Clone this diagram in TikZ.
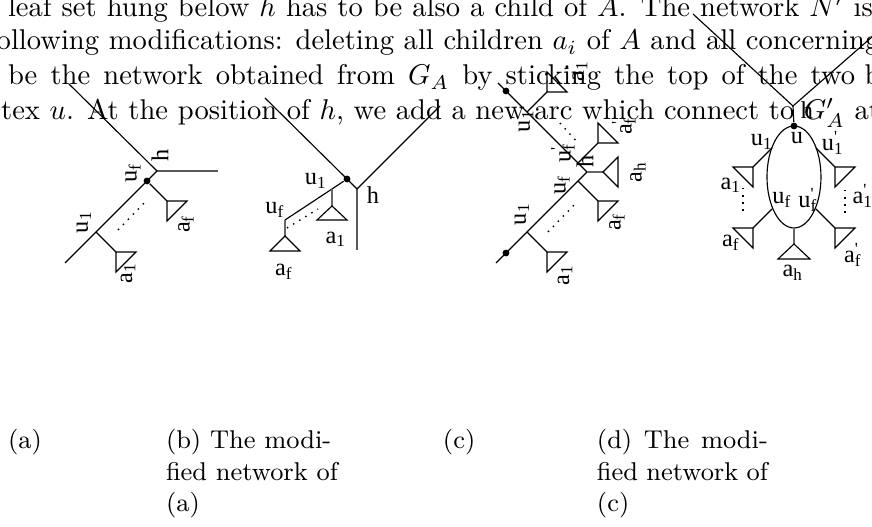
\documentclass[tikz,border=0pt]{standalone}
\usepackage{fontspec}
\newfontfamily\labfont{Liberation Serif}
\usetikzlibrary{positioning, shapes.geometric}
\tikzset{
  txt/.style={anchor=base west, inner sep=0pt, outer sep=0pt},
  captxt/.style={txt, font=\small},
  arc/.style={line width=0.4pt},
  grayarc/.style={line width=0.4pt, black!60},
  dots/.style={dotted, line width=0.5pt},
  vtx/.style={circle, fill, inner sep=0pt, minimum size=2.4pt},
  lab/.style={inner sep=0pt, font=\labfont\fontsize{8.5}{10}\selectfont},
  rlab/.style={lab, rotate=90},
  blob/.style={ellipse, draw, line width=0.4pt, inner sep=0pt,
    minimum width=18.9pt, minimum height=35.7pt},
}
\newcommand{\lsub}[2]{#1\textsubscript{#2}}
\newcommand{\lsubp}[2]{#1\rlap{\textsuperscript{'}}\textsubscript{#2}}

\begin{document}
\begin{tikzpicture}[x=0.35pt, y=-0.35pt]
  \useasboundingbox (0,0) rectangle (872,527);
  \clip (0,0) rectangle (872,527);

  % running text behind the figure
  \node[txt] (line1) at (8,17) {\hbox to 302.7pt{leaf set hung below $h$ has to be also a child of $A$. The network $N'$ is}};
  \node[txt] (line2) at (-12,50) {\hbox to 312pt{following modifications: deleting all children $a_i$ of $A$ and all concerning}};
  \node[txt] (line3) at (8,85) {\hbox to 296.5pt{be the network obtained from $G_A$ by sticking the top of the two}\ branches};
  \node[txt] (line4) at (-37,120) {\hbox to 321pt{vertex $u$. At the position of $h$, we add a new arc which connect to $G'_A$ at}};

  % (a)
  \coordinate (a-top) at (69,84);
  \coordinate (a-h) at (157,171);
  \coordinate (a-hend) at (218,171);
  \node[vtx] (a-uf) at (147,181) {};
  \coordinate (a-u1) at (96,232);
  \coordinate (a-end) at (65,263);
  \coordinate (a-taf) at (167,201);
  \coordinate (a-ta1) at (116,252);
  \coordinate (a-d1) at (118,230);
  \coordinate (a-d2) at (147,200);
  \draw[arc] (a-top) -- (a-h) -- (a-hend);
  \draw[arc] (a-h) -- (a-uf.center) -- (a-u1) -- (a-end);
  \draw[arc] (a-uf) -- (a-taf);
  \draw[arc] (a-taf) -- ++(20,0) -- ++(-20,20) -- cycle;
  \draw[arc] (a-u1) -- (a-ta1);
  \draw[arc] (a-ta1) -- ++(20,0) -- ++(-20,20) -- cycle;
  \draw[dots] (a-d1) -- (a-d2);
  \node[rlab] (a-lh) at (160,155) {h};
  \node[rlab] (a-luf) at (133,173) {\lsub{u}{f}};
  \node[rlab] (a-lu1) at (84,222) {\lsub{u}{1}};
  \node[rlab] (a-laf) at (186,224) {\lsub{a}{f}};
  \node[rlab] (a-la1) at (128,273) {\lsub{a}{1}};

  % (b)
  \coordinate (b-top) at (265,98);
  \coordinate (b-rtop) at (440,106);
  \node[vtx] (b-u) at (347,179) {};
  \coordinate (b-h) at (357,189);
  \coordinate (b-hend) at (357,250);
  \coordinate (b-u1) at (332,189);
  \coordinate (b-uf) at (285,220);
  \coordinate (b-ta1) at (332,206);
  \coordinate (b-taf) at (285,236);
  \coordinate (b-d1) at (287,228);
  \coordinate (b-d2) at (318,209);
  \draw[arc] (b-top) -- (b-u.center) -- (b-h) -- (b-hend);
  \draw[arc] (b-rtop) -- (b-h);
  \draw[arc] (b-u) -- (b-u1) -- (b-uf);
  \draw[grayarc] (b-u1) -- (b-ta1);
  \draw[arc] (b-ta1) -- ++(-15,14) -- ++(30,0) -- cycle;
  \draw[grayarc] (b-uf) -- (b-taf);
  \draw[arc] (b-taf) -- ++(-15,15) -- ++(30,0) -- cycle;
  \draw[dots] (b-d1) -- (b-d2);
  \node[lab] (b-lu1) at (316,181) {\lsub{u}{1}};
  \node[lab] (b-luf) at (275,210) {\lsub{u}{f}};
  \node[lab] (b-la1) at (336,239) {\lsub{a}{1}};
  \node[lab] (b-laf) at (284,272) {\lsub{a}{f}};
  \node[lab] (b-lh) at (373,195) {h};

  % (c)
  \coordinate (c-top) at (498,83);
  \node[vtx] (c-r1) at (506,91) {};
  \coordinate (c-u1p) at (527,112);
  \coordinate (c-ufp) at (578,163);
  \coordinate (c-h) at (587,172);
  \coordinate (c-uf) at (578,181);
  \coordinate (c-u1) at (527,232);
  \node[vtx] (c-r2) at (506,253) {};
  \coordinate (c-end) at (496,263);
  \coordinate (c-ta1p) at (547,92);
  \coordinate (c-tafp) at (598,143);
  \coordinate (c-tah) at (603,172);
  \coordinate (c-taf) at (598,201);
  \coordinate (c-ta1) at (547,252);
  \coordinate (c-d1) at (560,123);
  \coordinate (c-d2) at (578,143);
  \coordinate (c-d3) at (548,232);
  \coordinate (c-d4) at (577,202);
  \draw[arc] (c-top) -- (c-r1.center) -- (c-u1p) -- (c-ufp) -- (c-h)
    -- (c-uf) -- (c-u1) -- (c-r2.center) -- (c-end);
  \draw[arc] (c-u1p) -- (c-ta1p);
  \draw[arc] (c-ta1p) -- ++(0,-20) -- ++(20,20) -- cycle;
  \draw[arc] (c-ufp) -- (c-tafp);
  \draw[arc] (c-tafp) -- ++(0,-20) -- ++(20,20) -- cycle;
  \draw[grayarc] (c-h) -- (c-tah);
  \draw[arc] (c-tah) -- ++(15,-15) -- ++(0,30) -- cycle;
  \draw[arc] (c-uf) -- (c-taf);
  \draw[arc] (c-taf) -- ++(20,0) -- ++(-20,20) -- cycle;
  \draw[arc] (c-u1) -- (c-ta1);
  \draw[arc] (c-ta1) -- ++(20,0) -- ++(-20,20) -- cycle;
  \draw[dots] (c-d1) -- (c-d2);
  \draw[dots] (c-d3) -- (c-d4);
  \node[rlab] (c-lu1p) at (522,121) {\lsubp{u}{1}};
  \node[rlab] (c-la1p) at (576,71) {\lsubp{a}{1}};
  \node[rlab] (c-lufp) at (563,153) {\lsubp{u}{f}};
  \node[rlab] (c-lafp) at (624,126) {\lsubp{a}{f}};
  \node[rlab] (c-lh) at (585,161) {h};
  \node[rlab] (c-lah) at (638,172) {\lsub{a}{h}};
  \node[rlab] (c-luf) at (562,185) {\lsub{u}{f}};
  \node[rlab] (c-laf) at (617,222) {\lsub{a}{f}};
  \node[rlab] (c-lu1) at (522,214) {\lsub{u}{1}};
  \node[rlab] (c-la1) at (565,275) {\lsub{a}{1}};

  % (d)
  \coordinate (d-ltop) at (693,14);
  \coordinate (d-rtop) at (900,12.5);
  \coordinate (d-h) at (793,106);
  \node[vtx] (d-u) at (794,126) {};
  \node[blob] (d-G) at (794,177) {};
  \coordinate (d-u1) at (772,148);
  \coordinate (d-uf) at (772,209);
  \coordinate (d-u1p) at (816,148);
  \coordinate (d-ufp) at (816,209);
  \coordinate (d-ta1) at (753,167);
  \coordinate (d-taf) at (753,228);
  \coordinate (d-ta1p) at (835,167);
  \coordinate (d-tafp) at (835,228);
  \coordinate (d-tah) at (794,244);
  \coordinate (d-d1) at (743,188);
  \coordinate (d-d2) at (743,215);
  \coordinate (d-d3) at (845,190);
  \coordinate (d-d4) at (845,215);
  \draw[arc] (d-ltop) -- (d-h) -- (d-rtop);
  \draw[arc] (d-h) -- (d-u);
  \draw[arc] (d-u1) -- (d-ta1);
  \draw[arc] (d-ta1) -- ++(-20,0) -- ++(20,20) -- cycle;
  \draw[arc] (d-uf) -- (d-taf);
  \draw[arc] (d-taf) -- ++(-20,0) -- ++(20,20) -- cycle;
  \draw[arc] (d-u1p) -- (d-ta1p);
  \draw[arc] (d-ta1p) -- ++(20,0) -- ++(-20,20) -- cycle;
  \draw[arc] (d-ufp) -- (d-tafp);
  \draw[arc] (d-tafp) -- ++(20,0) -- ++(-20,20) -- cycle;
  \draw[grayarc] (d-G.south) -- (d-tah);
  \draw[arc] (d-tah) -- ++(-16,15) -- ++(32,0) -- cycle;
  \draw[dots] (d-d1) -- (d-d2);
  \draw[dots] (d-d3) -- (d-d4);
  \node[lab] (d-lh) at (807,110) {h};
  \node[lab] (d-lu) at (797,138) {u};
  \node[lab] (d-lu1) at (762,142) {\lsub{u}{1}};
  \node[lab] (d-lu1p) at (833,143) {\lsubp{u}{1}};
  \node[lab] (d-luf) at (782,200) {\lsub{u}{f}};
  \node[lab] (d-lufp) at (808,200) {\lsubp{u}{f}};
  \node[lab] (d-la1) at (731,185) {\lsub{a}{1}};
  \node[lab] (d-la1p) at (863,196) {\lsubp{a}{1}};
  \node[lab] (d-laf) at (731,243) {\lsub{a}{f}};
  \node[lab] (d-lafp) at (853,255) {\lsubp{a}{f}};
  \node[lab] (d-lah) at (793,273) {\lsub{a}{h}};

  % captions
  \node[captxt] (cap-a) at (8,449) {(a)};
  \node[captxt] (cap-b1) at (166,449) {(b) The modi-};
  \node[captxt] (cap-b2) at (166,480.5) {fied network of};
  \node[captxt] (cap-b3) at (166,512) {(a)};
  \node[captxt] (cap-c) at (443,449) {(c)};
  \node[captxt] (cap-d1) at (597,449) {\hbox to 59.8pt{(d) The modi-}};
  \node[captxt] (cap-d2) at (597,480.5) {\hbox to 59.8pt{fied network of}};
  \node[captxt] (cap-d3) at (597,512) {(c)};
\end{tikzpicture}
\end{document}
